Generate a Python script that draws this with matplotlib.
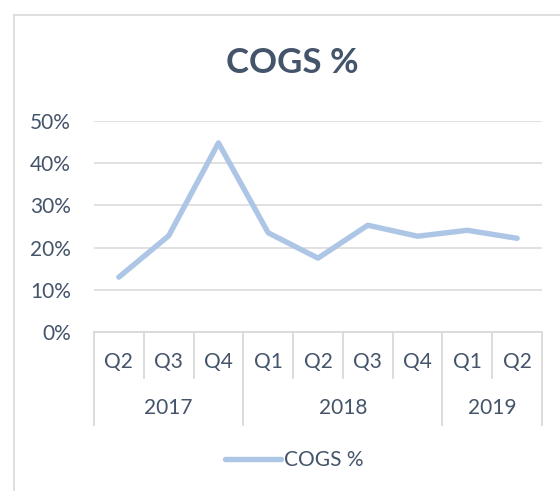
import matplotlib
matplotlib.use("Agg")
import matplotlib.pyplot as plt
import matplotlib.transforms as mtransforms
from matplotlib.lines import Line2D

quarters = ["Q2", "Q3", "Q4", "Q1", "Q2", "Q3", "Q4", "Q1", "Q2"]
years = ["2017", "2018", "2019"]
year_counts = [3, 4, 2]
cogs_pct = [0.130, 0.228, 0.448, 0.235, 0.175, 0.253, 0.227, 0.241, 0.222]
y_ticks = [0.0, 0.1, 0.2, 0.3, 0.4, 0.5]
y_tick_labels = ["0%", "10%", "20%", "30%", "40%", "50%"]

W, H = 560, 491
text_color = "#44546A"
grid_color = "#D9D9D9"
line_color = "#AEC6E6"
font = "Lato"
fs = 15

fig = plt.figure(figsize=(W / 100, H / 100), dpi=100)
fig.patch.set_facecolor("white")

# chart border (only left/top visible)
fig.add_artist(Line2D([13.5 / W, 13.5 / W], [0, 1 - 14.5 / H], transform=fig.transFigure,
                      color="#D9D9D9", lw=1.2))
fig.add_artist(Line2D([13.5 / W, 1], [1 - 14.5 / H, 1 - 14.5 / H], transform=fig.transFigure,
                      color="#D9D9D9", lw=1.2))

left, right = 94 / W, 542 / W
bottom, top = 1 - 332 / H, 1 - 121 / H
ax = fig.add_axes([left, bottom, right - left, top - bottom])
ax_h_px = 332 - 121

n = len(quarters)
x = list(range(n))
ax.plot(x, cogs_pct, color=line_color, lw=3.9, solid_capstyle="round",
        solid_joinstyle="round", label="COGS %", zorder=3)

ax.set_xlim(-0.5, n - 0.5)
ax.set_ylim(0, 0.5)
ax.set_yticks(y_ticks)
ax.set_yticklabels(y_tick_labels, fontsize=fs, color=text_color, family=font)
ax.tick_params(axis="y", length=0, pad=16.5)
ax.set_xticks([])
ax.grid(axis="y", color=grid_color, lw=1.1)
ax.set_axisbelow(True)
for s in ["top", "right", "left"]:
    ax.spines[s].set_visible(False)
ax.spines["bottom"].set_color(grid_color)
ax.spines["bottom"].set_linewidth(1.3)

trans = mtransforms.blended_transform_factory(ax.transData, ax.transAxes)
short = -46 / ax_h_px
long_ = -93 / ax_h_px

year_bounds = [-0.5]
acc = -0.5
for c in year_counts:
    acc += c
    year_bounds.append(acc)
for i in range(n + 1):
    b = i - 0.5
    yb = long_ if b in year_bounds else short
    ax.add_line(Line2D([b, b], [0, yb], transform=trans, color=grid_color,
                       lw=1.3, clip_on=False))

for i, q in enumerate(quarters):
    ax.text(i, -30 / ax_h_px, q, transform=trans, ha="center", va="center",
            fontsize=fs, color=text_color, family=font)

start = -0.5
for yl, c in zip(years, year_counts):
    ax.text(start + c / 2, -76 / ax_h_px, yl, transform=trans, ha="center",
            va="center", fontsize=fs, color=text_color, family=font)
    start += c

fig.text(292 / W, 1 - 63 / H, "COGS %", ha="center", va="center", fontsize=25,
         fontweight="bold", color=text_color, family=font)

leg = fig.legend(loc="center", bbox_to_anchor=(294 / W, 1 - 460 / H), frameon=False,
                 handlelength=2.7, handletextpad=0.15,
                 prop={"family": font, "size": fs})
for t in leg.get_texts():
    t.set_color(text_color)

fig.savefig("out.png", dpi=100, facecolor="white")
